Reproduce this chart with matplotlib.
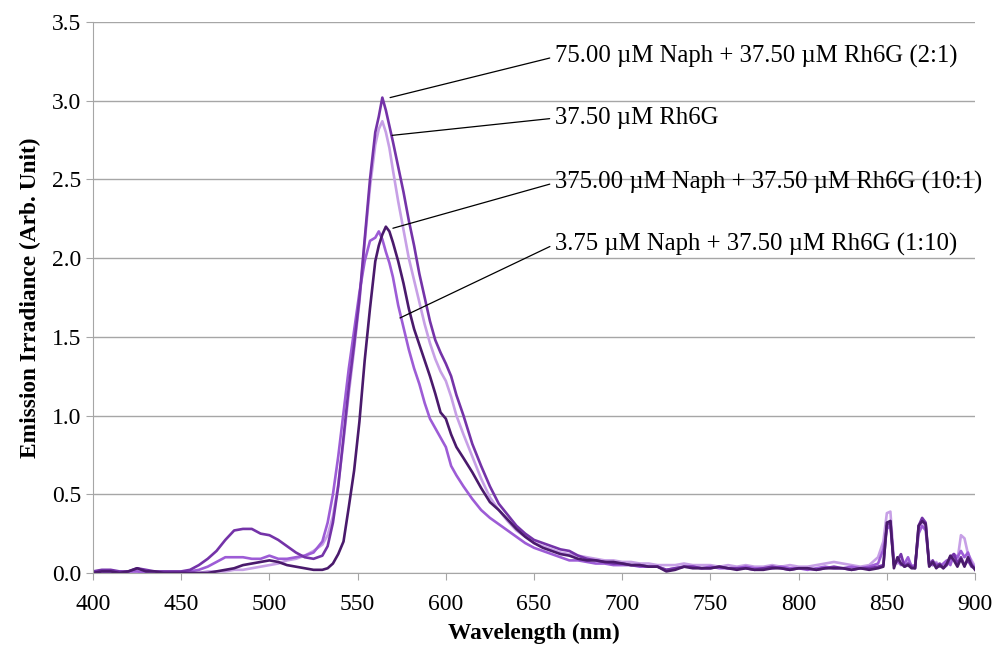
import numpy as np
import matplotlib.pyplot as plt

plt.rcParams["font.family"] = ["Liberation Serif", "DejaVu Serif"]

# wavelength grid (nm)
wavelength = (
    list(range(400, 530, 5))
    + [530, 533, 536, 539, 542, 545, 548, 551, 554, 557, 560, 562, 564, 566,
       568, 570, 573, 576, 579, 582, 585, 588, 591, 594, 597, 600, 603, 606]
    + list(range(610, 850, 5))
    + list(range(848, 901, 2))
)

# 75.00 uM Naph + 37.50 uM Rh6G (2:1)
naph_2_1 = (
    [0.01, 0.02, 0.02, 0.01, 0.01, 0.03, 0.02, 0.01, 0.01, 0.01, 0.01, 0.02, 0.05,
     0.09, 0.14, 0.21, 0.27, 0.28, 0.28, 0.25, 0.24, 0.21, 0.17, 0.13, 0.10, 0.09]
    + [0.11, 0.17, 0.32, 0.55, 0.86, 1.18, 1.45, 1.74, 2.12, 2.50, 2.80, 2.90, 3.02, 2.94,
       2.84, 2.74, 2.58, 2.42, 2.24, 2.08, 1.90, 1.75, 1.60, 1.48, 1.40, 1.33, 1.25, 1.13]
    + [1.00, 0.82, 0.68, 0.55, 0.44, 0.37, 0.30, 0.25, 0.21, 0.19, 0.17, 0.15, 0.14, 0.11,
       0.09, 0.08, 0.07, 0.06, 0.06, 0.05, 0.05, 0.04, 0.04, 0.02, 0.03, 0.04, 0.04, 0.03,
       0.03, 0.04, 0.03, 0.03, 0.03, 0.02, 0.03, 0.04, 0.03, 0.02, 0.03, 0.03, 0.02, 0.03,
       0.04, 0.03, 0.02, 0.03, 0.03, 0.04]
    + [0.05, 0.30, 0.33, 0.05, 0.08, 0.12, 0.04, 0.06, 0.04, 0.03, 0.30, 0.35, 0.32, 0.05,
       0.08, 0.04, 0.06, 0.03, 0.05, 0.10, 0.12, 0.06, 0.10, 0.05, 0.08, 0.04, 0.03]
)

# 37.50 uM Rh6G
rh6g = (
    [0.00, 0.00, 0.01, 0.00, 0.00, 0.01, 0.00, 0.00, 0.00, 0.00, 0.00, 0.00, 0.00,
     0.01, 0.01, 0.01, 0.02, 0.02, 0.03, 0.04, 0.05, 0.06, 0.08, 0.09, 0.11, 0.14]
    + [0.18, 0.24, 0.36, 0.56, 0.84, 1.14, 1.42, 1.72, 2.10, 2.45, 2.72, 2.82, 2.87, 2.80,
       2.70, 2.56, 2.36, 2.18, 2.00, 1.86, 1.72, 1.58, 1.46, 1.36, 1.28, 1.22, 1.12, 1.00]
    + [0.88, 0.74, 0.60, 0.48, 0.40, 0.33, 0.27, 0.23, 0.19, 0.17, 0.15, 0.13, 0.12, 0.11,
       0.10, 0.09, 0.08, 0.08, 0.07, 0.07, 0.06, 0.06, 0.05, 0.05, 0.05, 0.06, 0.05, 0.05,
       0.05, 0.04, 0.05, 0.04, 0.05, 0.04, 0.04, 0.05, 0.04, 0.05, 0.04, 0.04, 0.05, 0.06,
       0.07, 0.06, 0.05, 0.04, 0.05, 0.10]
    + [0.20, 0.38, 0.39, 0.08, 0.06, 0.10, 0.05, 0.07, 0.05, 0.04, 0.28, 0.33, 0.30, 0.06,
       0.05, 0.07, 0.04, 0.05, 0.07, 0.09, 0.12, 0.08, 0.24, 0.22, 0.12, 0.08, 0.04]
)

# 375.00 uM Naph + 37.50 uM Rh6G (10:1)
naph_10_1 = (
    [0.00, 0.01, 0.01, 0.00, 0.01, 0.03, 0.01, 0.01, 0.00, 0.00, 0.00, 0.00, 0.00,
     0.00, 0.01, 0.02, 0.03, 0.05, 0.06, 0.07, 0.08, 0.07, 0.05, 0.04, 0.03, 0.02]
    + [0.02, 0.03, 0.06, 0.12, 0.20, 0.42, 0.65, 0.96, 1.35, 1.68, 1.98, 2.08, 2.15, 2.20,
       2.17, 2.10, 1.98, 1.84, 1.68, 1.55, 1.45, 1.35, 1.25, 1.14, 1.02, 0.98, 0.88, 0.80]
    + [0.73, 0.64, 0.54, 0.45, 0.40, 0.34, 0.28, 0.23, 0.19, 0.16, 0.14, 0.12, 0.11, 0.09,
       0.08, 0.08, 0.07, 0.07, 0.06, 0.05, 0.05, 0.04, 0.04, 0.01, 0.02, 0.04, 0.03, 0.03,
       0.03, 0.04, 0.03, 0.02, 0.03, 0.02, 0.02, 0.03, 0.03, 0.02, 0.03, 0.03, 0.02, 0.03,
       0.03, 0.03, 0.02, 0.03, 0.02, 0.03]
    + [0.04, 0.32, 0.33, 0.03, 0.10, 0.06, 0.04, 0.05, 0.03, 0.03, 0.30, 0.33, 0.31, 0.04,
       0.07, 0.03, 0.05, 0.03, 0.06, 0.11, 0.08, 0.04, 0.09, 0.04, 0.10, 0.05, 0.02]
)

# 3.75 uM Naph + 37.50 uM Rh6G (1:10)
naph_1_10 = (
    [0.00, 0.01, 0.00, 0.00, 0.01, 0.01, 0.00, 0.00, 0.00, 0.00, 0.00, 0.01, 0.02,
     0.04, 0.07, 0.10, 0.10, 0.10, 0.09, 0.09, 0.11, 0.09, 0.09, 0.10, 0.11, 0.13]
    + [0.20, 0.32, 0.50, 0.74, 1.02, 1.30, 1.54, 1.78, 1.98, 2.11, 2.13, 2.17, 2.12, 2.04,
       1.97, 1.88, 1.70, 1.56, 1.42, 1.30, 1.20, 1.08, 0.98, 0.92, 0.86, 0.80, 0.68, 0.62]
    + [0.55, 0.47, 0.40, 0.35, 0.31, 0.27, 0.23, 0.19, 0.16, 0.14, 0.12, 0.10, 0.08, 0.08,
       0.07, 0.06, 0.06, 0.05, 0.05, 0.05, 0.04, 0.04, 0.04, 0.02, 0.03, 0.04, 0.04, 0.03,
       0.04, 0.03, 0.03, 0.03, 0.04, 0.03, 0.03, 0.03, 0.04, 0.03, 0.03, 0.02, 0.03, 0.04,
       0.03, 0.03, 0.04, 0.03, 0.04, 0.06]
    + [0.15, 0.28, 0.30, 0.06, 0.08, 0.05, 0.06, 0.10, 0.04, 0.05, 0.25, 0.30, 0.27, 0.06,
       0.05, 0.06, 0.04, 0.06, 0.08, 0.05, 0.12, 0.10, 0.14, 0.10, 0.13, 0.06, 0.03]
)

labels = [
    "75.00 µM Naph + 37.50 µM Rh6G (2:1)",
    "37.50 µM Rh6G",
    "375.00 µM Naph + 37.50 µM Rh6G (10:1)",
    "3.75 µM Naph + 37.50 µM Rh6G (1:10)",
]

fig = plt.figure(figsize=(9.97, 6.52), dpi=100)
ax = fig.add_axes([0.0933, 0.1212, 0.8847, 0.8450])

x = np.array(wavelength)
ax.plot(x, rh6g, color="#c7a0e6", lw=1.9)
ax.plot(x, naph_1_10, color="#9d5cd6", lw=1.9)
ax.plot(x, naph_2_1, color="#7433a8", lw=1.9)
ax.plot(x, naph_10_1, color="#4a1a6c", lw=1.9)

# leader lines: (curve point x, y, text y)
anchors = [(568.4, 3.02, 3.28), (569.5, 2.78, 2.89), (570.0, 2.19, 2.48), (574.0, 1.62, 2.09)]
for lab, (xp, yp, yt) in zip(labels, anchors):
    ax.annotate(lab, xy=(xp, yp), xytext=(662, yt), ha="left", va="center",
                fontsize=17.8,
                arrowprops=dict(arrowstyle="-", color="black", lw=0.9,
                                shrinkA=2, shrinkB=0, relpos=(0, 0.5)))

ax.set_xlim(400, 900)
ax.set_ylim(0, 3.5)
ax.set_xticks(np.arange(400, 901, 50))
ax.set_yticks(np.arange(0, 3.51, 0.5))
ax.set_yticklabels([f"{v:.1f}" for v in np.arange(0, 3.51, 0.5)])
ax.yaxis.grid(True, color="#a6a6a6", lw=1)
ax.set_axisbelow(True)
for s in ["top", "right"]:
    ax.spines[s].set_visible(False)
for s in ["left", "bottom"]:
    ax.spines[s].set_color("#a6a6a6")
ax.tick_params(colors="#a6a6a6", labelcolor="black", labelsize=17, length=5, direction="out")
ax.tick_params(axis="x", pad=10)
ax.set_xlabel("Wavelength (nm)", fontsize=16.8, fontweight="bold", labelpad=6)
ax.set_ylabel("Emission Irradiance (Arb. Unit)", fontsize=16.8, fontweight="bold", labelpad=8)

fig.savefig("out.png", dpi=100)
